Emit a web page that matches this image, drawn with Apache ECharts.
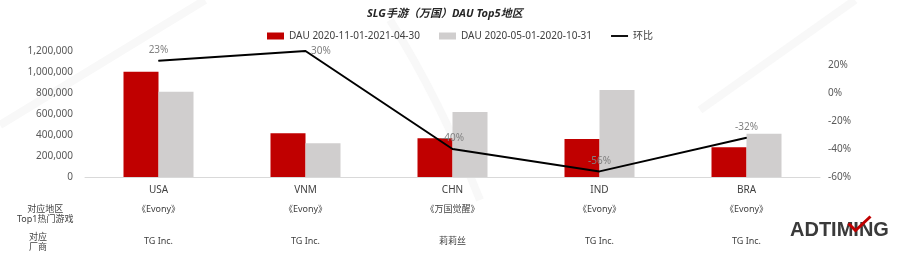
<!DOCTYPE html>
<html>
<head>
<meta charset="utf-8">
<script src="https://cdn.jsdelivr.net/npm/echarts@6/dist/echarts.min.js"></script>
<style>html,body{margin:0;padding:0;background:#fff}#c{width:900px;height:253px}</style>
</head>
<body>
<div id="c"></div>
<script>
const categories = ['USA', 'VNM', 'CHN', 'IND', 'BRA'];
const games = ['《Evony》', '《Evony》', '《万国觉醒》', '《Evony》', '《Evony》'];
const publishers = ['TG Inc.', 'TG Inc.', '莉莉丝', 'TG Inc.', 'TG Inc.'];
const dauRecent = [1003000, 416000, 369000, 362000, 284000];
const dauPrev = [812000, 321000, 619000, 829000, 412000];
const momPct = [23, 30, -40, -56, -32];
const leftTicks = [0, 1200000, 200000];
const rightTicks = [-60, 30, 20];

const FONT = "'Noto Sans', 'Noto Sans CJK SC', sans-serif";
const chart = echarts.init(document.getElementById('c'), null, {renderer: 'canvas'});
const wm = '#f8f8f8';
chart.setOption({
  backgroundColor: '#fff',
  animation: false,
  textStyle: {fontFamily: FONT},
  title: {
    text: 'SLG手游（万国）DAU Top5地区',
    left: 362, top: 3,
    textStyle: {fontSize: 11, fontWeight: 'bold', fontStyle: 'italic', color: '#262626', fontFamily: FONT}
  },
  legend: {
    left: 262, top: 26,
    itemWidth: 17, itemHeight: 7, itemGap: 19,
    textStyle: {fontSize: 10, color: '#404040', fontFamily: FONT},
    data: [
      {name: 'DAU 2020-11-01-2021-04-30', icon: 'rect'},
      {name: 'DAU 2020-05-01-2020-10-31', icon: 'rect'},
      {name: '环比', icon: 'path://M0,0 L20,0 L20,2.2 L0,2.2 Z'}
    ]
  },
  grid: {left: 85, right: 80, top: 51, bottom: 76, containLabel: false},
  xAxis: [
    {
      type: 'category', data: categories, position: 'bottom',
      axisLine: {lineStyle: {color: '#d9d9d9'}}, axisTick: {show: false},
      axisLabel: {fontSize: 10, color: '#404040', margin: 8}
    },
    {
      type: 'category', data: games, position: 'bottom', offset: 20,
      axisLine: {show: false}, axisTick: {show: false},
      axisLabel: {fontSize: 9, color: '#404040', margin: 8}
    },
    {
      type: 'category', data: publishers, position: 'bottom', offset: 52,
      axisLine: {show: false}, axisTick: {show: false},
      axisLabel: {fontSize: 9, color: '#404040', margin: 8}
    }
  ],
  yAxis: [
    {
      type: 'value', min: leftTicks[0], max: leftTicks[1], interval: leftTicks[2],
      axisLine: {show: false}, axisTick: {show: false}, splitLine: {show: false},
      axisLabel: {fontSize: 10, color: '#595959', margin: 12,
        formatter: v => v.toLocaleString('en-US')}
    },
    {
      type: 'value', min: rightTicks[0], max: rightTicks[1], interval: rightTicks[2],
      position: 'right',
      axisLine: {show: false}, axisTick: {show: false}, splitLine: {show: false},
      axisLabel: {fontSize: 10, color: '#595959', margin: 8, showMaxLabel: false,
        formatter: v => v + '%'}
    }
  ],
  series: [
    {
      name: 'DAU 2020-11-01-2021-04-30', type: 'bar', data: dauRecent,
      barWidth: 35, barGap: '0%',
      itemStyle: {color: '#c00000'}
    },
    {
      name: 'DAU 2020-05-01-2020-10-31', type: 'bar', data: dauPrev,
      barWidth: 35, barGap: '0%',
      itemStyle: {color: '#d0cece'}
    },
    {
      name: '环比', type: 'line', yAxisIndex: 1,
      data: momPct.map((v, i) => ({value: v, label: {position: i === 1 ? 'right' : 'top'}})),
      symbol: 'circle', symbolSize: 1,
      lineStyle: {color: '#000', width: 2},
      itemStyle: {color: '#000'},
      label: {show: true, fontSize: 10, color: '#808080', distance: 5, formatter: p => p.value + '%'},
      z: 5
    }
  ],
  graphic: [
    {type: 'line', silent: true, z: -10, shape: {x1: 0, y1: 125, x2: 205, y2: 0}, style: {stroke: wm, lineWidth: 8}},
    {type: 'bezierCurve', silent: true, z: -10, shape: {x1: 390, y1: 20, cpx1: 440, cpy1: 100, x2: 480, y2: 200}, style: {stroke: wm, lineWidth: 8, fill: null}},
    {type: 'line', silent: true, z: -10, shape: {x1: 855, y1: 0, x2: 700, y2: 110}, style: {stroke: wm, lineWidth: 8}},
    {type: 'text', left: 17, top: 204, style: {text: '对应地区\nTop1热门游戏', fontSize: 9, lineHeight: 10, fill: '#404040', textAlign: 'center', fontFamily: FONT}},
    {type: 'text', left: 29, top: 232, style: {text: '对应\n厂商', fontSize: 9, lineHeight: 10, fill: '#404040', textAlign: 'center', fontFamily: FONT}},
    {type: 'text', left: 790, top: 220, style: {text: 'ADTIMING', fontSize: 20, fontWeight: 'bold', fill: '#3a3a3a', fontFamily: "'Liberation Sans', sans-serif"}},
    {type: 'polyline', left: 846, top: 214, shape: {points: [[0, 8], [7, 15], [22, 1]]}, style: {stroke: '#c00000', lineWidth: 3, fill: null}}
  ]
});
</script>
</body>
</html>
